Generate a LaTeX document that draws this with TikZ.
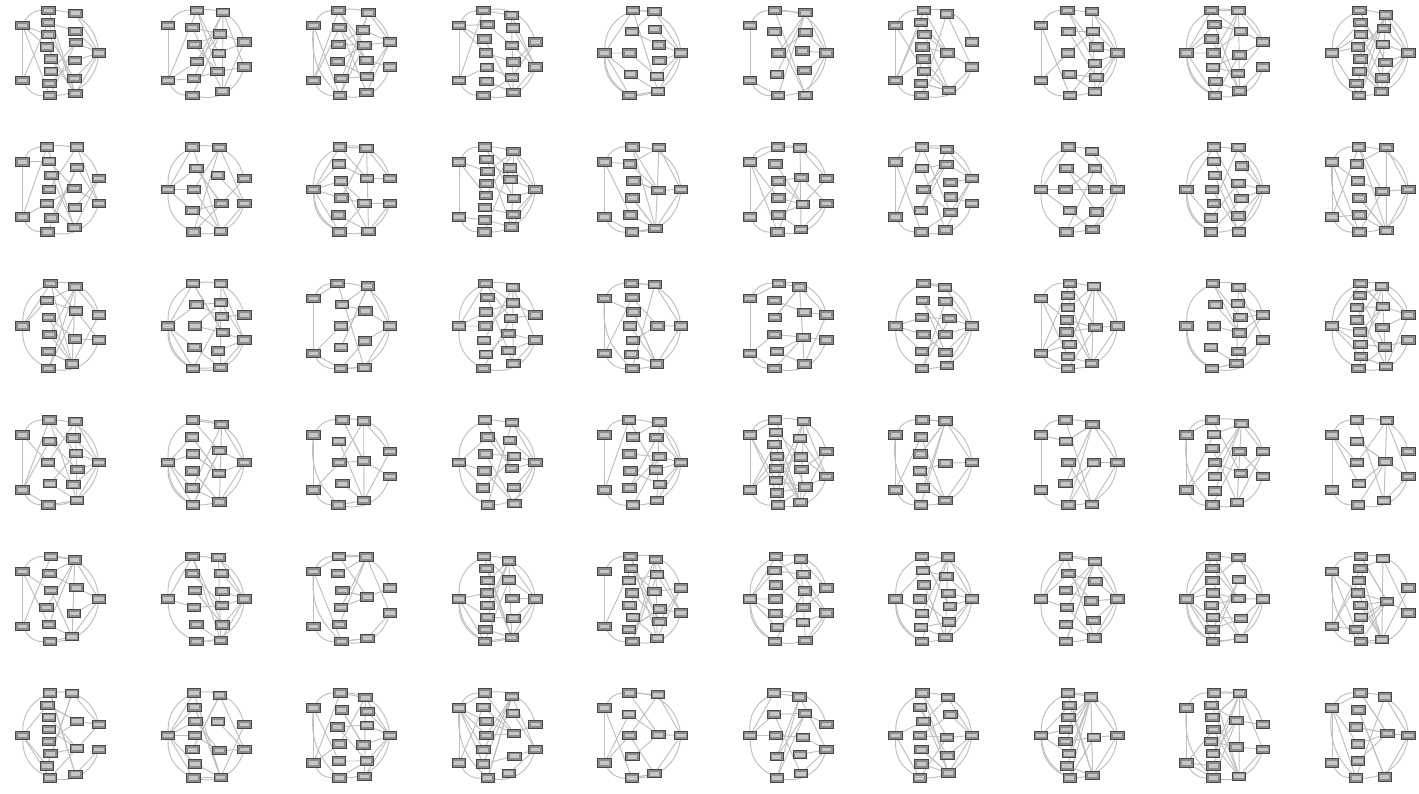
\documentclass[tikz,border=0pt]{standalone}
\usetikzlibrary{backgrounds}

\begin{document}
\begin{tikzpicture}[
  box/.style={draw=black!72, fill=black!45, line width=0.5pt,
    minimum width=0.27cm, minimum height=0.165cm, inner sep=0pt,
    path picture={\fill[black!22] ([xshift=1.2pt,yshift=-1.3pt]path picture bounding box.north west)
      rectangle ([xshift=-1.2pt,yshift=1.3pt]path picture bounding box.south east);}},
  link/.style={draw=black!25, line width=0.55pt},
]
\useasboundingbox (0,0) rectangle (28.38,15.88);
\pgfmathsetseed{4217}
% grid of 6 x 10 small graphs
\foreach \r in {0,...,5}{
\foreach \c in {0,...,9}{
  \pgfmathsetmacro\cx{1.2+2.91*\c}
  \pgfmathsetmacro\cy{14.82-2.73*\r}
  \def\p{g\r-\c-}
  \begin{scope}[shift={(\cx,\cy)}]
    \pgfmathrandominteger{\nl}{1}{2}\pgfmathtruncatemacro\nl{\nl}
    \pgfmathrandominteger{\nm}{5}{8}\pgfmathtruncatemacro\nm{\nm}
    \pgfmathrandominteger{\nn}{3}{6}\pgfmathtruncatemacro\nn{\nn}
    \pgfmathrandominteger{\nr}{1}{2}\pgfmathtruncatemacro\nr{\nr}
    % left column
    \ifnum\nl=1
      \node[box] (\p a1) at (-0.75,0) {};
    \else
      \node[box] (\p a1) at (-0.75,0.55) {};
      \node[box] (\p a2) at (-0.75,-0.55) {};
    \fi
    % central column
    \foreach \k in {1,...,\nm}{
      \pgfmathsetmacro\yy{0.85-1.7*(\k-1)/(\nm-1)}
      \pgfmathsetmacro\xx{-0.22+0.1*rnd-0.05}
      \node[box] (\p b\k) at (\xx,\yy) {};
    }
    % second column
    \foreach \k in {1,...,\nn}{
      \pgfmathsetmacro\yy{0.8-1.6*(\k-1)/(\nn-1)+0.1*rnd-0.05}
      \pgfmathsetmacro\xx{0.3+0.12*rnd-0.06}
      \node[box] (\p c\k) at (\xx,\yy) {};
    }
    % right column
    \ifnum\nr=1
      \node[box] (\p d1) at (0.78,0) {};
    \else
      \node[box] (\p d1) at (0.78,0.22) {};
      \node[box] (\p d2) at (0.78,-0.28) {};
    \fi
    % links
    \begin{pgfonlayer}{background}
      \foreach \k in {1,...,\nm}{
        \pgfmathrandominteger{\t}{1}{\nn}
        \draw[link] (\p b\k) -- (\p c\t);
        \pgfmathrandominteger{\q}{0}{1}
        \ifnum\q=0 \pgfmathrandominteger{\s}{1}{\nl}\draw[link] (\p a\s) -- (\p b\k);\fi
        \pgfmathrandominteger{\q}{0}{1}
        \ifnum\q=0 \pgfmathrandominteger{\t}{1}{\nn}\draw[link] (\p b\k) -- (\p c\t);\fi
      }
      \foreach \j in {1,...,\nn}{
        \pgfmathrandominteger{\t}{1}{\nr}
        \draw[link] (\p c\j) -- (\p d\t);
      }
      \draw[link] (\p a1) to[bend left=30] (\p b1);
      \draw[link] (\p a\nl) to[bend right=30] (\p b\nm);
      \draw[link] (\p b1) to[bend left=40] (\p d1);
      \draw[link] (\p b\nm) to[bend right=40] (\p d\nr);
      \ifnum\nl=2 \draw[link] (\p a1) -- (\p a2);\fi
      \pgfmathrandominteger{\q}{0}{1}
      \ifnum\q=1 \draw[link] (\p c1) -- (\p c\nn);\fi
      \pgfmathrandominteger{\q}{0}{1}
      \ifnum\q=1 \draw[link] (\p a1) to[bend right=25] (\p b\nm);\fi
    \end{pgfonlayer}
  \end{scope}
}}
\end{tikzpicture}
\end{document}
